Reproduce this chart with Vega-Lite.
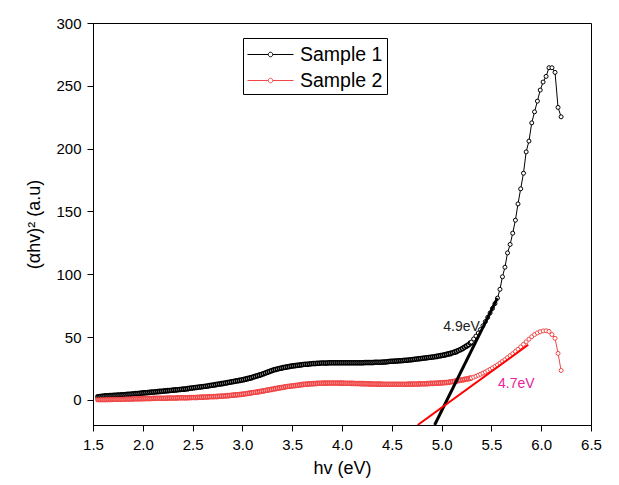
{
"$schema": "https://vega.github.io/schema/vega-lite/v6.json",
"width": 498, "height": 402,
"autosize": "none",
"padding": {"left": 93, "top": 23, "right": 28, "bottom": 60},
"background": "white",
"config": {
  "font": "Liberation Sans",
  "view": {"stroke": "black", "strokeWidth": 1},
  "axis": {"domainColor": "black", "tickColor": "black", "labelColor": "black", "titleColor": "black", "labelFontSize": 15, "titleFontSize": 18, "titleFontWeight": "normal", "grid": false, "labelFont": "Liberation Sans", "titleFont": "Liberation Sans", "labelOverlap": false, "labelFlush": false}
},
"datasets": {
"curves": [
{"x":1.55,"a":2.5,"b":0.3},{"x":1.57,"a":2.7,"b":0.3},{"x":1.59,"a":2.9,"b":0.3},{"x":1.61,"a":3.05,"b":0.35},{"x":1.63,"a":3.2,"b":0.35},{"x":1.65,"a":3.25,"b":0.4},{"x":1.67,"a":3.35,"b":0.4},{"x":1.69,"a":3.45,"b":0.4},{"x":1.71,"a":3.55,"b":0.45},{"x":1.73,"a":3.65,"b":0.45},{"x":1.75,"a":3.75,"b":0.5},{"x":1.77,"a":3.85,"b":0.5},{"x":1.79,"a":3.95,"b":0.5},{"x":1.81,"a":4.05,"b":0.55},{"x":1.83,"a":4.2,"b":0.6},{"x":1.85,"a":4.35,"b":0.65},{"x":1.87,"a":4.5,"b":0.7},{"x":1.89,"a":4.65,"b":0.75},{"x":1.91,"a":4.8,"b":0.8},{"x":1.93,"a":4.95,"b":0.85},{"x":1.95,"a":5.1,"b":0.9},{"x":1.97,"a":5.25,"b":0.95},{"x":1.99,"a":5.4,"b":1.0},
{"x":2.01,"a":5.55,"b":1.0},{"x":2.03,"a":5.7,"b":1.05},{"x":2.05,"a":5.85,"b":1.1},{"x":2.07,"a":6.0,"b":1.1},{"x":2.09,"a":6.15,"b":1.15},{"x":2.11,"a":6.3,"b":1.2},{"x":2.13,"a":6.45,"b":1.2},{"x":2.15,"a":6.6,"b":1.25},{"x":2.17,"a":6.75,"b":1.25},{"x":2.19,"a":6.9,"b":1.3},{"x":2.21,"a":7.05,"b":1.3},{"x":2.23,"a":7.2,"b":1.35},{"x":2.25,"a":7.35,"b":1.4},{"x":2.27,"a":7.5,"b":1.45},{"x":2.29,"a":7.65,"b":1.5},{"x":2.31,"a":7.8,"b":1.5},{"x":2.33,"a":7.95,"b":1.55},{"x":2.35,"a":8.1,"b":1.6},{"x":2.37,"a":8.25,"b":1.65},{"x":2.39,"a":8.4,"b":1.65},{"x":2.41,"a":8.55,"b":1.7},{"x":2.43,"a":8.7,"b":1.7},{"x":2.45,"a":8.95,"b":1.75},{"x":2.47,"a":9.2,"b":1.8},{"x":2.49,"a":9.4,"b":1.8},
{"x":2.51,"a":9.6,"b":1.85},{"x":2.53,"a":9.8,"b":1.9},{"x":2.55,"a":10.0,"b":2.0},{"x":2.57,"a":10.2,"b":2.05},{"x":2.59,"a":10.4,"b":2.15},{"x":2.61,"a":10.6,"b":2.2},{"x":2.63,"a":10.9,"b":2.3},{"x":2.65,"a":11.1,"b":2.35},{"x":2.67,"a":11.4,"b":2.45},{"x":2.69,"a":11.6,"b":2.5},{"x":2.71,"a":11.9,"b":2.6},{"x":2.73,"a":12.1,"b":2.7},{"x":2.75,"a":12.4,"b":2.75},{"x":2.77,"a":12.6,"b":2.85},{"x":2.79,"a":12.9,"b":2.95},{"x":2.81,"a":13.1,"b":3.05},{"x":2.83,"a":13.4,"b":3.2},{"x":2.85,"a":13.7,"b":3.35},{"x":2.87,"a":14.0,"b":3.5},{"x":2.89,"a":14.3,"b":3.65},{"x":2.91,"a":14.6,"b":3.8},{"x":2.93,"a":14.9,"b":3.95},{"x":2.95,"a":15.2,"b":4.1},{"x":2.97,"a":15.5,"b":4.25},{"x":2.99,"a":15.8,"b":4.4},
{"x":3.01,"a":16.1,"b":4.6},{"x":3.03,"a":16.5,"b":4.85},{"x":3.05,"a":16.9,"b":5.1},{"x":3.07,"a":17.3,"b":5.35},{"x":3.09,"a":17.7,"b":5.6},{"x":3.11,"a":18.2,"b":5.85},{"x":3.13,"a":18.7,"b":6.1},{"x":3.15,"a":19.2,"b":6.35},{"x":3.17,"a":19.7,"b":6.6},{"x":3.19,"a":20.2,"b":6.85},{"x":3.21,"a":20.8,"b":7.15},{"x":3.23,"a":21.4,"b":7.45},{"x":3.25,"a":22.0,"b":7.75},{"x":3.27,"a":22.6,"b":8.05},{"x":3.29,"a":23.2,"b":8.35},{"x":3.31,"a":23.7,"b":8.65},{"x":3.33,"a":24.2,"b":8.95},{"x":3.35,"a":24.6,"b":9.25},{"x":3.37,"a":25.0,"b":9.55},{"x":3.39,"a":25.3,"b":9.85},{"x":3.41,"a":25.7,"b":10.1},{"x":3.43,"a":26.0,"b":10.35},{"x":3.45,"a":26.3,"b":10.6},{"x":3.47,"a":26.6,"b":10.85},{"x":3.49,"a":26.9,"b":11.1},
{"x":3.51,"a":27.1,"b":11.3},{"x":3.53,"a":27.3,"b":11.5},{"x":3.55,"a":27.5,"b":11.7},{"x":3.57,"a":27.7,"b":11.9},{"x":3.59,"a":27.9,"b":12.1},{"x":3.61,"a":28.1,"b":12.3},{"x":3.63,"a":28.3,"b":12.4},{"x":3.65,"a":28.4,"b":12.55},{"x":3.67,"a":28.6,"b":12.7},{"x":3.69,"a":28.7,"b":12.8},{"x":3.71,"a":28.9,"b":12.9},{"x":3.73,"a":29.0,"b":13.0},{"x":3.75,"a":29.1,"b":13.1},{"x":3.77,"a":29.2,"b":13.2},{"x":3.79,"a":29.3,"b":13.25},{"x":3.81,"a":29.3,"b":13.3},{"x":3.83,"a":29.4,"b":13.35},{"x":3.85,"a":29.4,"b":13.35},{"x":3.87,"a":29.5,"b":13.4},{"x":3.89,"a":29.5,"b":13.4},{"x":3.91,"a":29.5,"b":13.4},{"x":3.93,"a":29.5,"b":13.4},{"x":3.95,"a":29.6,"b":13.4},{"x":3.97,"a":29.6,"b":13.35},{"x":3.99,"a":29.6,"b":13.3},
{"x":4.01,"a":29.6,"b":13.3},{"x":4.03,"a":29.5,"b":13.25},{"x":4.05,"a":29.5,"b":13.2},{"x":4.07,"a":29.5,"b":13.2},{"x":4.09,"a":29.5,"b":13.15},{"x":4.11,"a":29.5,"b":13.1},{"x":4.13,"a":29.5,"b":13.05},{"x":4.15,"a":29.6,"b":13.0},{"x":4.17,"a":29.6,"b":13.0},{"x":4.19,"a":29.6,"b":12.95},{"x":4.21,"a":29.6,"b":12.9},{"x":4.23,"a":29.7,"b":12.85},{"x":4.25,"a":29.7,"b":12.8},{"x":4.27,"a":29.8,"b":12.75},{"x":4.29,"a":29.8,"b":12.7},{"x":4.31,"a":29.8,"b":12.65},{"x":4.33,"a":29.9,"b":12.6},{"x":4.35,"a":29.9,"b":12.55},{"x":4.37,"a":30.0,"b":12.5},{"x":4.39,"a":30.0,"b":12.5},{"x":4.41,"a":30.1,"b":12.45},{"x":4.43,"a":30.2,"b":12.45},{"x":4.45,"a":30.4,"b":12.4},{"x":4.47,"a":30.6,"b":12.4},{"x":4.49,"a":30.7,"b":12.4},
{"x":4.51,"a":30.8,"b":12.4},{"x":4.53,"a":30.9,"b":12.4},{"x":4.55,"a":31.0,"b":12.4},{"x":4.57,"a":31.1,"b":12.4},{"x":4.59,"a":31.2,"b":12.4},{"x":4.61,"a":31.4,"b":12.4},{"x":4.63,"a":31.5,"b":12.45},{"x":4.65,"a":31.6,"b":12.45},{"x":4.67,"a":31.8,"b":12.5},{"x":4.69,"a":31.9,"b":12.5},{"x":4.71,"a":32.1,"b":12.55},{"x":4.73,"a":32.3,"b":12.6},{"x":4.75,"a":32.5,"b":12.65},{"x":4.77,"a":32.7,"b":12.7},{"x":4.79,"a":32.9,"b":12.75},{"x":4.81,"a":33.1,"b":12.8},{"x":4.83,"a":33.3,"b":12.85},{"x":4.85,"a":33.5,"b":12.9},{"x":4.87,"a":33.7,"b":13.0},{"x":4.89,"a":33.9,"b":13.1},{"x":4.91,"a":34.1,"b":13.15},{"x":4.93,"a":34.3,"b":13.25},{"x":4.95,"a":34.6,"b":13.3},{"x":4.97,"a":34.9,"b":13.4},{"x":4.99,"a":35.2,"b":13.5},
{"x":5.01,"a":35.5,"b":13.6},{"x":5.03,"a":35.8,"b":13.7},{"x":5.05,"a":36.2,"b":13.8},{"x":5.07,"a":36.6,"b":14.0},{"x":5.09,"a":37.0,"b":14.3},{"x":5.11,"a":37.5,"b":14.6},{"x":5.13,"a":38.0,"b":14.8},{"x":5.15,"a":38.6,"b":15.1},{"x":5.17,"a":39.3,"b":15.4},{"x":5.19,"a":40.1,"b":15.7},{"x":5.21,"a":40.9,"b":16.0},{"x":5.23,"a":41.8,"b":16.3},{"x":5.25,"a":42.8,"b":16.6},{"x":5.27,"a":43.9,"b":16.9},{"x":5.29,"a":45.2,"b":17.3},
{"x":5.299,"a":46.0,"b":17.5},{"x":5.322,"a":48.5,"b":18.1},{"x":5.345,"a":50.8,"b":18.8},{"x":5.368,"a":53.2,"b":19.6},{"x":5.391,"a":56.0,"b":20.4},{"x":5.415,"a":59.0,"b":21.3},{"x":5.439,"a":62.3,"b":22.2},{"x":5.463,"a":65.7,"b":23.2},{"x":5.487,"a":69.2,"b":24.3},{"x":5.511,"a":72.8,"b":25.4},{"x":5.536,"a":76.7,"b":26.6},{"x":5.561,"a":81.0,"b":27.8},{"x":5.586,"a":88.0,"b":29.2},{"x":5.611,"a":98.0,"b":30.6},{"x":5.636,"a":105.6,"b":32.0},{"x":5.662,"a":117.0,"b":33.6},{"x":5.688,"a":123.7,"b":35.2},{"x":5.714,"a":132.7,"b":36.8},{"x":5.741,"a":143.0,"b":38.5},{"x":5.767,"a":156.0,"b":40.3},{"x":5.794,"a":168.0,"b":42.2},{"x":5.822,"a":180.4,"b":44.2},{"x":5.849,"a":197.4,"b":46.2},{"x":5.877,"a":206.0,"b":48.3},{"x":5.905,"a":220.5,"b":50.3},{"x":5.933,"a":229.3,"b":52.0},{"x":5.962,"a":237.8,"b":53.3},{"x":5.99,"a":246.6,"b":54.3},{"x":6.019,"a":253.0,"b":54.9},{"x":6.049,"a":257.5,"b":55.0},{"x":6.078,"a":264.4,"b":54.5},{"x":6.108,"a":264.4,"b":52.0},{"x":6.139,"a":260.7,"b":49.0},{"x":6.169,"a":232.8,"b":37.0},{"x":6.2,"a":225.3,"b":23.4}
],
"tanBlack": [{"x":4.93,"y":-20},{"x":5.56,"y":81}],
"tanRed": [{"x":4.76,"y":-20},{"x":5.87,"y":43.9}],
"noteBlack": [{"x":5.2,"y":58,"t":"4.9eV"}],
"noteRed": [{"x":5.75,"y":12.8,"t":"4.7eV"}]
},
"layer": [
{
  "data": {"name": "curves"},
  "transform": [{"fold": ["a", "b"], "as": ["s", "y"]}],
  "mark": {"type": "line", "strokeWidth": 1, "clip": true},
  "encoding": {
    "x": {"field": "x", "type": "quantitative", "scale": {"domain": [1.5, 6.5], "nice": false, "zero": false},
      "axis": {"title": "hv (eV)", "values": [1.5,1.75,2,2.25,2.5,2.75,3,3.25,3.5,3.75,4,4.25,4.5,4.75,5,5.25,5.5,5.75,6,6.25,6.5],
        "labelExpr": "round(datum.value*4) % 2 == 1 ? '' : format(datum.value, '.1f')",
        "tickSize": {"condition": {"test": "round(datum.value*4) % 2 == 1", "value": 3}, "value": 6},
        "labelPadding": 6, "titlePadding": 7}},
    "y": {"field": "y", "type": "quantitative", "scale": {"domain": [-20, 300], "nice": false, "zero": false},
      "axis": {"title": "(αhv)² (a.u)", "values": [0,25,50,75,100,125,150,175,200,225,250,275,300],
        "labelExpr": "datum.value % 50 == 25 ? '' : format(datum.value, 'd')",
        "tickSize": {"condition": {"test": "datum.value % 50 == 25", "value": 3}, "value": 6},
        "labelPadding": 6, "titlePadding": 12}},
    "color": {"field": "s", "type": "nominal", "scale": {"domain": ["a", "b"], "range": ["black", "#f04848"]},
      "legend": {"title": null, "orient": "none", "legendX": 150, "legendY": 15,
        "labelExpr": "datum.label == 'a' ? 'Sample 1' : 'Sample 2'",
        "labelFontSize": 19.5, "labelFont": "Liberation Sans", "labelColor": "black",
        "symbolType": "M-1,0H0.727M1.107,0H2.833M1.107,0A0.19,0.19,0,1,1,0.727,0A0.19,0.19,0,1,1,1.107,0",
        "symbolSize": 576, "symbolStrokeWidth": 1, "symbolFillColor": "white",
        "strokeColor": "black", "padding": 4, "labelOffset": 28, "rowPadding": 4}}
  }
},
{
  "data": {"name": "curves"},
  "transform": [{"fold": ["a", "b"], "as": ["s", "y"]}, {"filter": "datum.x < 5.295"}],
  "mark": {"type": "point", "shape": "circle", "filled": false, "fill": "white", "size": 16, "strokeWidth": 1.6, "opacity": 1, "clip": true},
  "encoding": {
    "x": {"field": "x", "type": "quantitative"},
    "y": {"field": "y", "type": "quantitative"},
    "color": {"field": "s", "type": "nominal"}
  }
},
{
  "data": {"name": "curves"},
  "transform": [{"fold": ["a", "b"], "as": ["s", "y"]}, {"filter": "datum.x >= 5.295"}],
  "mark": {"type": "point", "shape": "circle", "filled": false, "fill": "white", "size": 16, "strokeWidth": 1, "opacity": 1, "clip": true},
  "encoding": {
    "x": {"field": "x", "type": "quantitative"},
    "y": {"field": "y", "type": "quantitative"},
    "color": {"field": "s", "type": "nominal"}
  }
},
{
  "data": {"name": "tanBlack"},
  "mark": {"type": "line", "color": "black", "strokeWidth": 3, "clip": true},
  "encoding": {"x": {"field": "x", "type": "quantitative"}, "y": {"field": "y", "type": "quantitative"}}
},
{
  "data": {"name": "tanRed"},
  "mark": {"type": "line", "color": "#ff0000", "strokeWidth": 2, "clip": true},
  "encoding": {"x": {"field": "x", "type": "quantitative"}, "y": {"field": "y", "type": "quantitative"}}
},
{
  "data": {"name": "noteBlack"},
  "mark": {"type": "text", "color": "#222222", "fontSize": 14, "font": "Liberation Sans"},
  "encoding": {"x": {"field": "x", "type": "quantitative"}, "y": {"field": "y", "type": "quantitative"}, "text": {"field": "t"}}
},
{
  "data": {"name": "noteRed"},
  "mark": {"type": "text", "color": "#e8229a", "fontSize": 14, "font": "Liberation Sans"},
  "encoding": {"x": {"field": "x", "type": "quantitative"}, "y": {"field": "y", "type": "quantitative"}, "text": {"field": "t"}}
}
]
}
